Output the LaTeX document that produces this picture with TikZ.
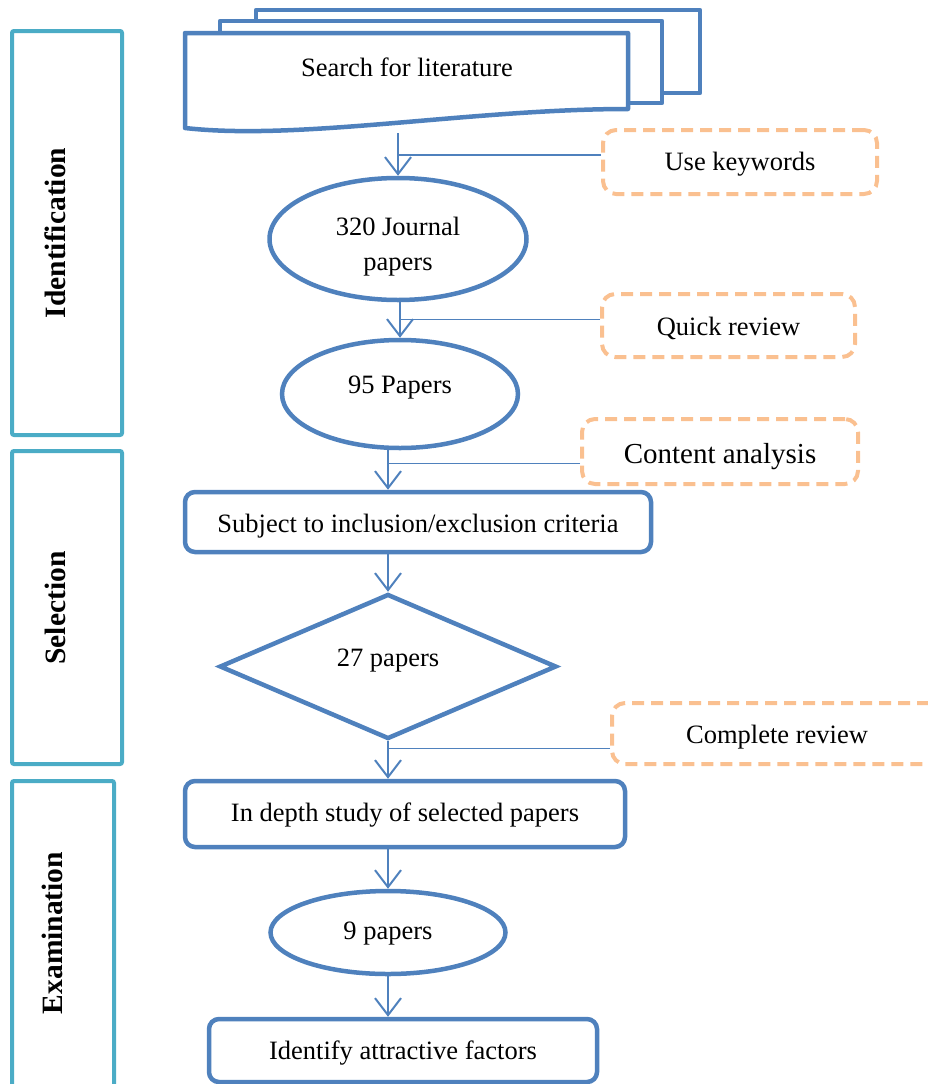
\documentclass[tikz,border=0pt]{standalone}
\usepackage{fontspec}
\setmainfont{Liberation Serif}
\usetikzlibrary{shapes.geometric,arrows.meta,calc}

\definecolor{flowblue}{HTML}{4F81BD}
\definecolor{phaseteal}{HTML}{4BACC6}
\definecolor{noteorange}{HTML}{FAC090}

\tikzset{
  txt/.style={font=\fontsize{26.5}{35}\selectfont, align=center},
  % baseline of a one-line label sits on the node centre; \dropto moves it down
  fixbase/.style={text height=0pt, text depth=0pt},
  shapeline/.style={draw=flowblue, line width=4.5pt, fill=white},
  procbox/.style={shapeline, txt, fixbase, rectangle, rounded corners=10pt, inner sep=0pt},
  oval/.style={shapeline, txt, ellipse, inner sep=0pt},
  decision/.style={shapeline, txt, fixbase, diamond, inner sep=0pt},
  notebox/.style={draw=noteorange, line width=4pt, dash pattern=on 12pt off 7pt,
    rounded corners=13pt, txt, fixbase, rectangle, inner sep=0pt, fill=white},
  phasebox/.style={draw=phaseteal, line width=4pt, rectangle, rounded corners=2pt, inner sep=0pt},
  phaselabel/.style={rotate=90, font=\fontsize{29.5}{32}\selectfont\bfseries},
  flowarrow/.style={draw=flowblue, line width=2pt,
    -{Straight Barb[length=17pt,width=26pt,line width=2pt]}},
  sideline/.style={draw=flowblue, line width=1.6pt},
}
\newcommand{\dropto}[2]{\raisebox{-#1}{#2}}

\begin{document}
\begin{tikzpicture}[x=1pt,y=-1pt]
\useasboundingbox (0,0) rectangle (928,1084);
\clip (0,0) rectangle (928,1084);

% phase frames on the left
\node[phasebox, minimum width=110pt, minimum height=404pt] (ph1) at (67,233) {};
\node[phaselabel] (ph1t) at (55,233) {Identification};
\node[phasebox, minimum width=110pt, minimum height=313pt] (ph2) at (67,607.5) {};
\node[phaselabel] (ph2t) at (55,608) {Selection};
\node[phasebox, minimum width=102pt, minimum height=320pt] (ph3) at (63,941) {};
\node[phaselabel] (ph3t) at (52,933) {Examination};

% stacked document shape
\draw[shapeline, line join=round] (256,10) -- (700,10) -- (700,93) -- (256,93) -- cycle;
\draw[shapeline, line join=round] (220,21) -- (662,21) -- (662,103) -- (220,103) -- cycle;
\draw[shapeline, line join=round] (185,33) -- (628,33) -- (628,109)
  .. controls (470,109) and (300,141) .. (185,128) -- cycle;
\node[txt] (search) at (407,67) {Search for literature};
\coordinate (searchbot) at (398,133);

% main flow
\node[oval, minimum width=257pt, minimum height=122pt] (e1) at (398,239) {};
\node[txt] (e1t) at (398,247) {320 Journal\\papers};
\node[oval, fixbase, minimum width=236pt, minimum height=108pt] (e2) at (400,394) {\dropto{-1pt}{95 Papers}};
\node[procbox, minimum width=466pt, minimum height=60pt] (r1) at (418,522) {\dropto{10.2pt}{Subject to inclusion/exclusion criteria}};
\node[decision, minimum width=337pt, minimum height=145pt] (d) at (388,666.5) {\dropto{0pt}{27 papers}};
\node[procbox, minimum width=440pt, minimum height=66pt] (r2) at (405,814) {\dropto{7.2pt}{In depth study of selected papers}};
\node[oval, fixbase, minimum width=235pt, minimum height=83pt] (e3) at (388,932.5) {\dropto{6.9pt}{9 papers}};
\node[procbox, minimum width=388pt, minimum height=63pt] (r3) at (403,1050.5) {\dropto{9.2pt}{Identify attractive factors}};

% notes
\node[notebox, minimum width=274pt, minimum height=64pt] (n1) at (740,162) {\dropto{8.2pt}{Use keywords}};
\node[notebox, minimum width=253pt, minimum height=63pt] (n2) at (728.5,325.5) {\dropto{9.5pt}{Quick review}};
\node[notebox, minimum width=276pt, minimum height=65pt, font=\fontsize{29}{32}\selectfont] (n3) at (720,451.5) {\dropto{11.7pt}{Content analysis}};
\node[notebox, minimum width=330pt, minimum height=61pt] (n4) at (777,733.5) {\dropto{10.2pt}{Complete review}};

% arrows
\draw[flowarrow] (searchbot) -- (e1.north);
\draw[flowarrow] (e1.south -| e2.north) -- (e2.north);
\draw[flowarrow] (e2.south -| d.north) -- (r1.north -| d.north);
\draw[flowarrow] (r1.south -| d.north) -- (d.north);
\draw[flowarrow] (d.south) -- (r2.north -| d.south);
\draw[flowarrow] (r2.south -| e3.north) -- (e3.north);
\draw[flowarrow] (e3.south) -- (r3.north -| e3.south);

% side connectors from the notes
\draw[sideline] ([yshift=7pt]n1.west) -- ([yshift=7pt]n1.west -| e1.north);
\draw[sideline] ([yshift=6pt]n2.west) -- ([yshift=6pt]n2.west -| e2.north);
\draw[sideline] ([yshift=-12pt]n3.west) -- ([yshift=-12pt]n3.west -| d.north);
\draw[sideline] ([yshift=-15pt]n4.west) -- ([yshift=-15pt]n4.west -| d.south);
\end{tikzpicture}
\end{document}
